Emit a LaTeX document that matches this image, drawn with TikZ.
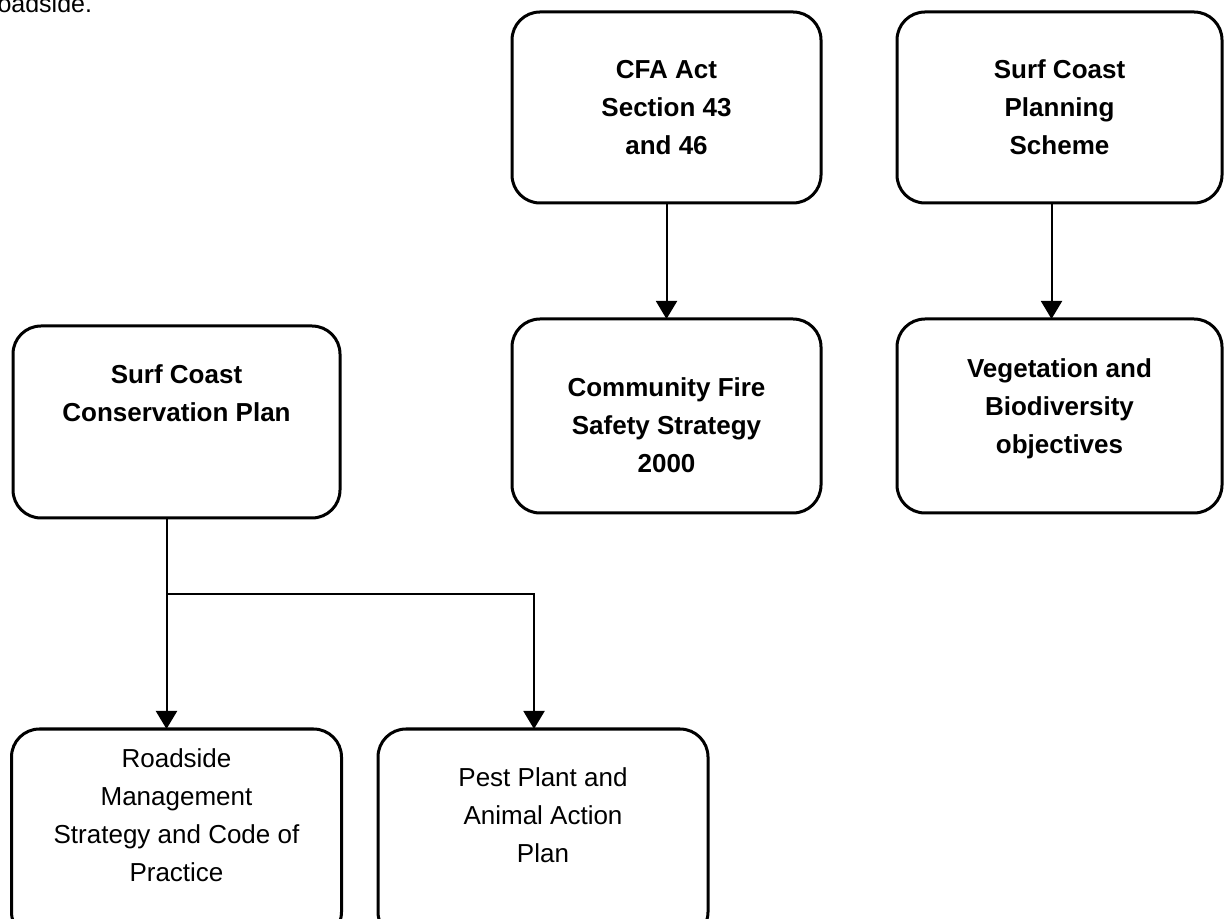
\documentclass[tikz,border=0pt]{standalone}
\usepackage{fontspec}
\setmainfont{Liberation Sans}
\usetikzlibrary{positioning, arrows.meta}

\begin{document}
\begin{tikzpicture}[x=1pt, y=1pt,
    box/.style={rectangle, draw, line width=3pt, rounded corners=28pt, outer sep=0pt, align=center,
        minimum width=309pt, minimum height=191pt, font=\bfseries\fontsize{26}{38}\selectfont},
    plainbox/.style={box, font=\fontsize{26}{38}\selectfont},
    link/.style={-{Triangle[width=21pt, length=18pt]}, line width=2pt}]
    \useasboundingbox (0,0) rectangle (1230,918);
    \clip (0,0) rectangle (1230,918);
    % end of the sentence above the figure
    \node[anchor=base west, inner sep=0pt, font=\fontsize{25}{30}\selectfont] (prev) at (-11,905) {roadside.};
    % top row
    \node[box] (CFA) at (666.5,810.5) {CFA Act\\Section 43\\and 46};
    \node[box, minimum width=325pt] (SCPS) [right=76pt of CFA] {Surf Coast\\Planning\\Scheme};
    \node[box, minimum height=194pt] (CFSS) [below=116pt of CFA] {~\\Community Fire\\Safety Strategy\\2000};
    \node[box, minimum width=325pt, minimum height=194pt] (VBO) [below=116pt of SCPS] {Vegetation and\\Biodiversity\\objectives\\[-18pt]~};
    % left branch
    \node[box, minimum width=327pt, minimum height=192pt] (SCCP) at (176.5,496) {Surf Coast\\Conservation Plan\\[20pt]~};
    \node[plainbox, minimum width=330pt, minimum height=211pt] (RMS) [below=211pt of SCCP] {Roadside\\Management\\Strategy and Code of\\Practice\\~};
    \node[plainbox, minimum width=330pt, minimum height=211pt] (PPAA) [right=36.5pt of RMS] {Pest Plant and\\Animal Action\\Plan\\~};
    \coordinate[below=76pt of SCCP.south, xshift=-10pt] (split);
    \draw[link] (CFA) -- (CFSS);
    \draw[link] ([xshift=-8pt]SCPS.south) -- ([xshift=-8pt]VBO.north);
    \draw[link] ([xshift=-10pt]SCCP.south) -- ([xshift=-10pt]RMS.north);
    \draw[link] (split) -| ([xshift=-9pt]PPAA.north);
\end{tikzpicture}
\end{document}
